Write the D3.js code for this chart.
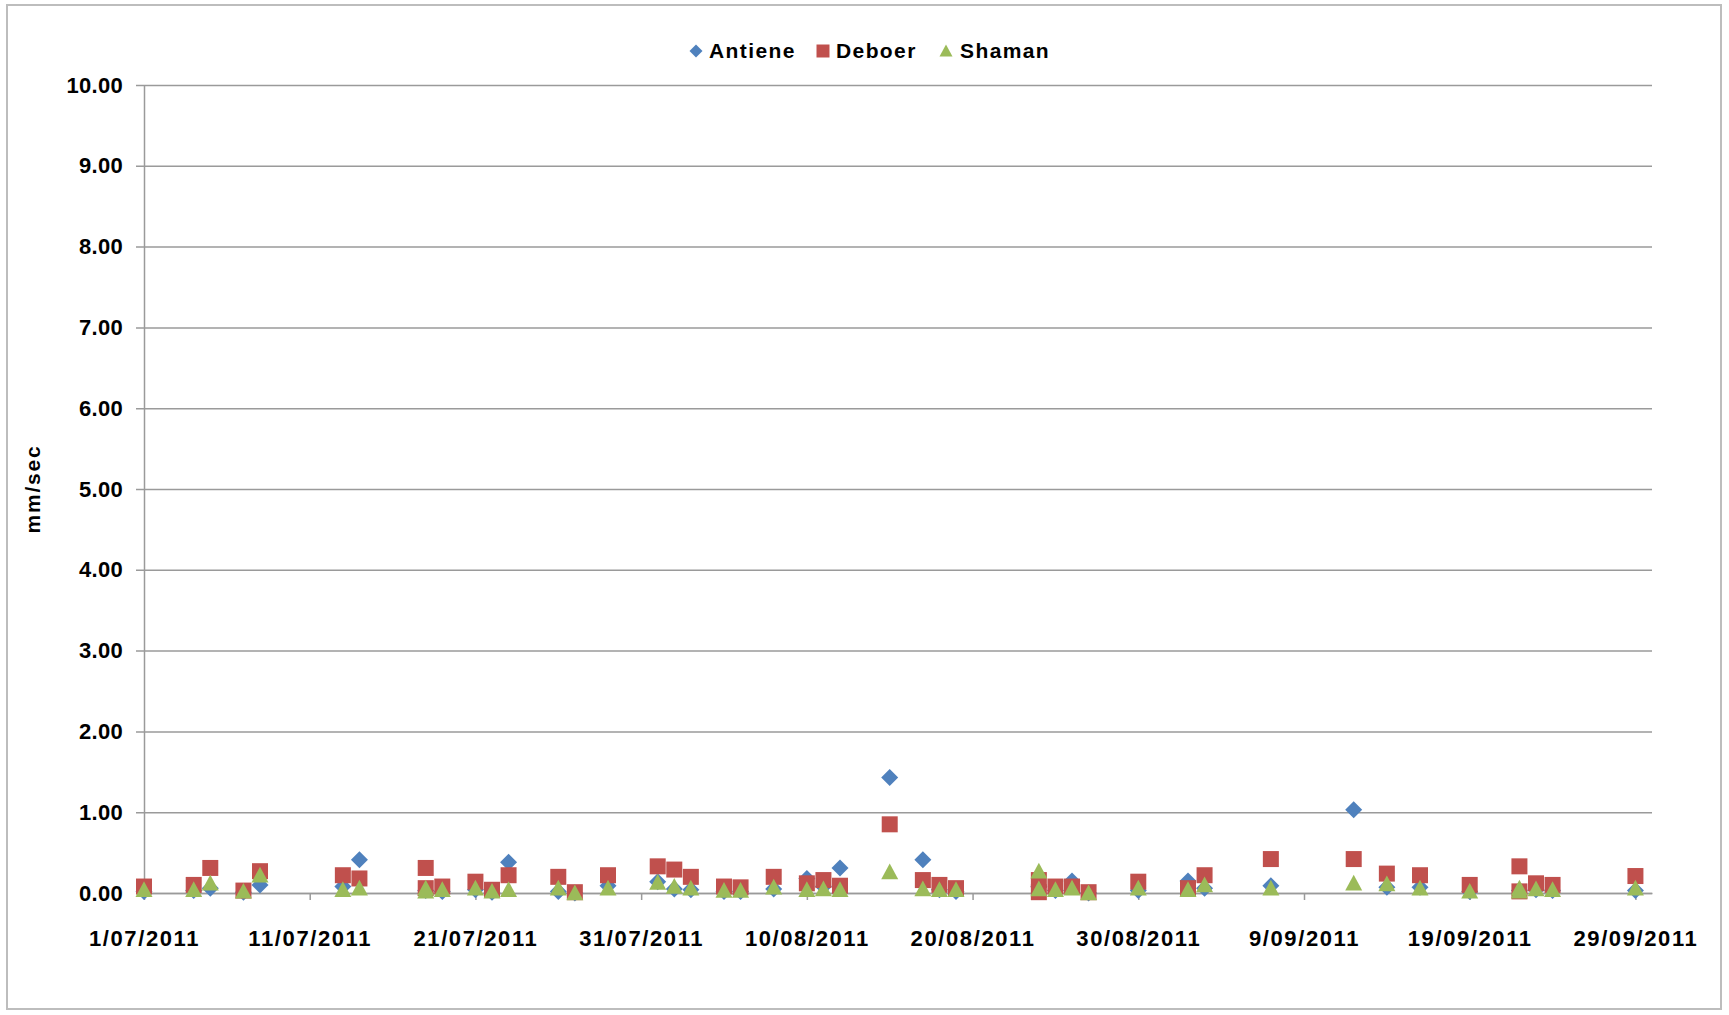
<!DOCTYPE html>
<html>
<head>
<meta charset="utf-8">
<script src="https://cdnjs.cloudflare.com/ajax/libs/d3/7.8.5/d3.min.js"></script>
<style>
  html, body { margin: 0; padding: 0; background: #fff; }
  svg { display: block; }
  text { font-family: "Liberation Sans", Arial, sans-serif; font-weight: bold; fill: #000; }
</style>
</head>
<body>
<svg id="chart" width="1729" height="1015"></svg>
<script>
// ---- Data ----
const dates = [
  "1/07/2011","4/07/2011","5/07/2011","7/07/2011","8/07/2011","13/07/2011","14/07/2011",
  "18/07/2011","18/07/2011","19/07/2011","21/07/2011","22/07/2011","23/07/2011","26/07/2011",
  "27/07/2011","29/07/2011","1/08/2011","2/08/2011","3/08/2011","5/08/2011","6/08/2011",
  "8/08/2011","10/08/2011","11/08/2011","12/08/2011","15/08/2011","17/08/2011","18/08/2011",
  "19/08/2011","24/08/2011","24/08/2011","25/08/2011","26/08/2011","27/08/2011","30/08/2011",
  "2/09/2011","3/09/2011","7/09/2011","12/09/2011","14/09/2011","16/09/2011","19/09/2011",
  "22/09/2011","22/09/2011","23/09/2011","24/09/2011","29/09/2011"
];
const antiene = [
  0.02,0.03,0.06,0.01,0.10,0.08,0.41,
  0.03,null,0.02,0.04,0.01,0.38,0.02,
  0.00,0.09,0.14,0.05,0.04,0.02,0.02,
  0.05,0.18,0.08,0.31,1.43,0.41,0.04,
  0.02,0.08,null,0.03,0.15,0.00,0.03,
  0.15,0.06,0.09,1.03,0.07,0.07,0.02,
  0.03,null,0.04,0.03,0.03
];
const deboer = [
  0.08,0.10,0.31,0.03,0.27,0.22,0.18,
  0.31,0.06,0.08,0.14,0.04,0.22,0.20,
  0.01,0.22,0.33,0.29,0.20,0.08,0.07,
  0.20,0.12,0.16,0.09,0.85,0.16,0.10,
  0.06,0.16,0.01,0.08,0.08,0.01,0.14,
  0.06,0.22,0.42,0.42,0.24,0.22,0.10,
  0.33,0.02,0.12,0.10,0.21
];
const shaman = [
  0.04,0.04,0.12,0.02,0.22,0.04,0.06,
  0.06,0.02,0.04,0.06,0.02,0.04,0.06,
  0.00,0.06,0.13,0.08,0.06,0.03,0.03,
  0.07,0.04,0.05,0.04,0.26,0.05,0.04,
  0.04,0.27,0.05,0.04,0.06,0.00,0.06,
  0.04,0.10,0.06,0.12,0.11,0.06,0.02,
  0.06,0.02,0.05,0.04,0.06
];
const seriesNames = ["Antiene", "Deboer", "Shaman"];
const seriesColors = ["#4F81BD", "#C0504D", "#9BBB59"];
const yTicks = [0,1,2,3,4,5,6,7,8,9,10];
const xTickLabels = ["1/07/2011","11/07/2011","21/07/2011","31/07/2011","10/08/2011",
  "20/08/2011","30/08/2011","9/09/2011","19/09/2011","29/09/2011"];
const yTitle = "mm/sec";

// ---- Setup ----
const parse = d3.timeParse("%d/%m/%Y");
const fmt = d3.timeFormat("%-d/%m/%Y");
const svg = d3.select("#chart");
const pL = 144, pR = 1652, pT = 85, pB = 893;

svg.append("rect").attr("x", 7).attr("y", 5).attr("width", 1714).attr("height", 1004)
  .attr("fill", "#fff").attr("stroke", "#bdbdbd").attr("stroke-width", 2);

const x = d3.scaleTime()
  .domain([parse("1/07/2011"), parse("30/09/2011")])
  .range([pL, pR]);
const y = d3.scaleLinear().domain([0, 10]).range([pB, pT]);

// gridlines + y axis
const yAxis = d3.axisLeft(y).tickValues(yTicks).tickSize(-(pR - pL)).tickSizeOuter(0)
  .tickPadding(21).tickFormat(d3.format(".2f"));
const gy = svg.append("g").attr("transform", `translate(${pL},0)`).call(yAxis);
gy.select(".domain").attr("stroke", "#9a9a9a").attr("stroke-width", 1.5);
gy.selectAll(".tick line").attr("stroke", "#9a9a9a").attr("stroke-width", 1.5).attr("x1", -8);
gy.selectAll(".tick text").attr("font-size", 22).attr("font-family", '"Liberation Sans", Arial, sans-serif')
  .attr("font-weight", "bold").attr("fill", "#000").attr("letter-spacing", 0.3);

// x axis
const xAxis = d3.axisBottom(x).tickValues(xTickLabels.map(parse)).tickSize(7).tickSizeOuter(0)
  .tickPadding(30).tickFormat(fmt);
const gx = svg.append("g").attr("transform", `translate(0,${pB})`).call(xAxis);
gx.select(".domain").attr("stroke", "#9a9a9a").attr("stroke-width", 1.5);
gx.selectAll(".tick line").attr("stroke", "#9a9a9a").attr("stroke-width", 1.5);
gx.selectAll(".tick text").attr("font-size", 22).attr("font-family", '"Liberation Sans", Arial, sans-serif')
  .attr("font-weight", "bold").attr("fill", "#000").attr("letter-spacing", 1.6);

// y title
svg.append("text").attr("transform", `translate(40,${(pT + pB) / 2}) rotate(-90)`)
  .attr("text-anchor", "middle").attr("font-size", 21).attr("letter-spacing", 1.8).text(yTitle);

// marker shapes
const diamond = { draw(ctx, s) { const r = s; ctx.moveTo(0, -r); ctx.lineTo(r, 0); ctx.lineTo(0, r); ctx.lineTo(-r, 0); ctx.closePath(); } };
const square = { draw(ctx, s) { const r = s; ctx.rect(-r, -r, 2 * r, 2 * r); } };
const triangle = { draw(ctx, s) { const r = s; ctx.moveTo(0, -r); ctx.lineTo(r, r * 0.85); ctx.lineTo(-r, r * 0.85); ctx.closePath(); } };
const shapes = [diamond, square, triangle];
const halfSizes = [8.5, 8, 8.5];
const valueSets = [antiene, deboer, shaman];

valueSets.forEach((vals, si) => {
  const pts = dates.map((d, i) => ({ date: parse(d), v: vals[i] })).filter(p => p.v !== null);
  svg.append("g").selectAll("path").data(pts).join("path")
    .attr("transform", p => `translate(${x(p.date)},${y(p.v)})`)
    .attr("d", d3.symbol(shapes[si], halfSizes[si]))
    .attr("fill", seriesColors[si]);
});

// legend
const legendItems = [
  { name: seriesNames[0], mx: 696, tx: 709 },
  { name: seriesNames[1], mx: 823, tx: 836 },
  { name: seriesNames[2], mx: 946, tx: 960 }
];
const lg = svg.append("g");
legendItems.forEach((it, i) => {
  lg.append("path").attr("transform", `translate(${it.mx},51)`)
    .attr("d", d3.symbol(shapes[i], 6.5)).attr("fill", seriesColors[i]);
  lg.append("text").attr("x", it.tx).attr("y", 51).attr("dy", "0.35em")
    .attr("font-size", 21).attr("letter-spacing", 1.4).text(it.name);
});
</script>
</body>
</html>
